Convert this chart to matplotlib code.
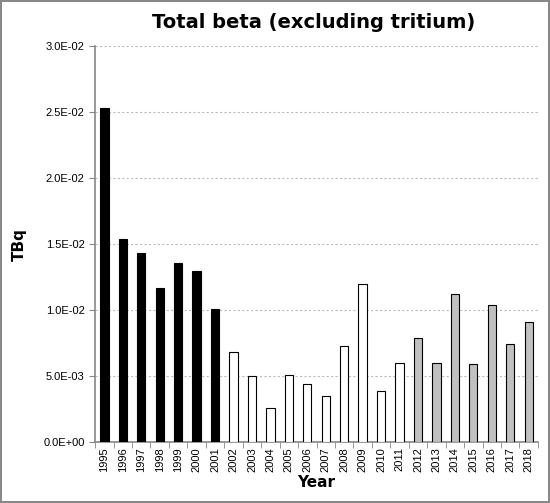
import matplotlib
matplotlib.use("Agg")
import matplotlib.pyplot as plt
from matplotlib.ticker import FixedLocator, FuncFormatter

years = [str(y) for y in range(1995, 2019)]
values = [0.0253, 0.0154, 0.0143, 0.0117, 0.0136, 0.0130, 0.0101, 0.0068, 0.0050, 0.0026,
          0.0051, 0.0044, 0.0035, 0.0073, 0.0120, 0.0039, 0.0060, 0.0079, 0.0060, 0.0112,
          0.0059, 0.0104, 0.0074, 0.0091]
groups = ["hatch"] + ["black"] * 6 + ["white"] * 10 + ["grey"] * 7

fig = plt.figure(figsize=(5.5, 5.03), dpi=100)
fig.patch.set_edgecolor("#888888"); fig.patch.set_linewidth(1.5)
ax = fig.add_axes([0.173, 0.121, 0.805, 0.787])
fc = {"hatch": "black", "black": "black", "white": "white", "grey": "#c0c0c0"}
for i, (v, g) in enumerate(zip(values, groups)):
    ax.bar(i, v, width=0.45, facecolor=fc[g], edgecolor="black", linewidth=0.8,
           hatch="...." if g == "hatch" else None, zorder=3)
ax.set_xlim(-0.5, len(years) - 0.5)
ax.set_ylim(0, 0.03)
ax.set_yticks([i * 0.005 for i in range(7)])
ax.yaxis.set_major_formatter(FuncFormatter(lambda v, p: f"{v:.1E}"))
ax.set_xticks(range(len(years)))
ax.set_xticklabels(years, rotation=90, fontsize=8, family="Liberation Sans")
ax.xaxis.set_minor_locator(FixedLocator([i - 0.5 for i in range(len(years) + 1)]))
ax.tick_params(axis="x", which="major", length=0)
ax.tick_params(axis="x", which="minor", length=4, color="#888888")
ax.tick_params(axis="y", labelsize=8, length=4, color="#888888")
for l in ax.get_yticklabels():
    l.set_family("Liberation Sans")
ax.grid(axis="y", linestyle=(0, (2, 2)), color="#bbbbbb", linewidth=0.8, zorder=0)
for s in ["top", "right"]:
    ax.spines[s].set_visible(False)
ax.spines["left"].set_color("#888888"); ax.spines["bottom"].set_color("#888888")
ax.spines["left"].set_linewidth(1.2); ax.spines["bottom"].set_linewidth(1.2)
ax.set_ylabel("TBq", fontsize=11, fontweight="bold", labelpad=12)
ax.set_xlabel("Year", fontsize=11, fontweight="bold", labelpad=2)
fig.suptitle("Total beta (excluding tritium)", x=0.57, y=0.975, fontsize=14, fontweight="bold")
fig.savefig("out.png", dpi=100, edgecolor=fig.get_edgecolor())
